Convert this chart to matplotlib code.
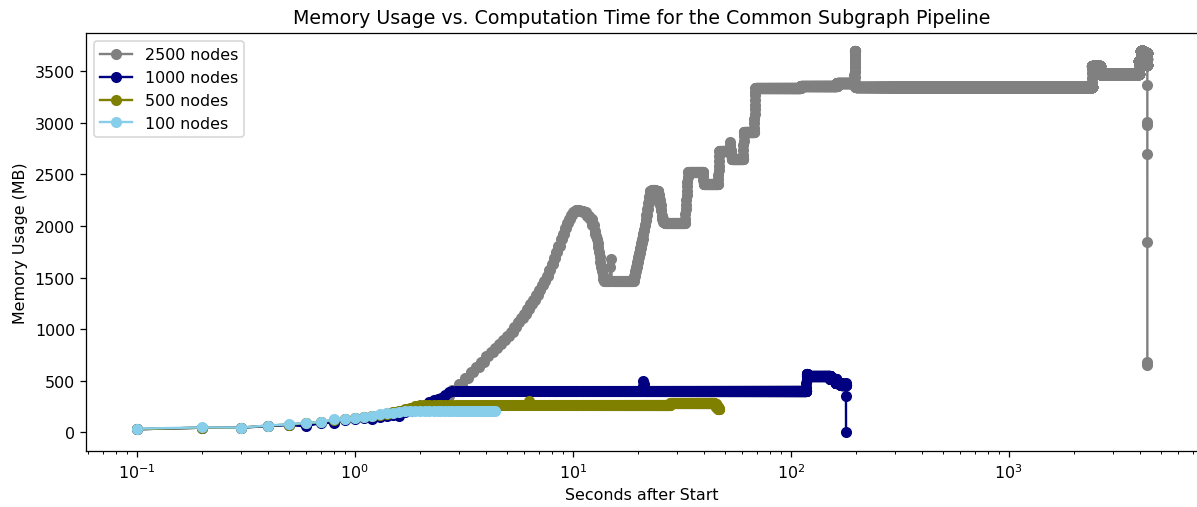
import numpy as np
import matplotlib
matplotlib.use("Agg")
import matplotlib.pyplot as plt

SAMPLE_INTERVAL = 0.1  # profiler sampling period (s)

# Memory readings per run: time (s) a level is first seen and the level (MB),
# held until the next reading. Runs are sampled every SAMPLE_INTERVAL seconds.
t_2500 = [0.1, 0.2, 0.3, 0.4, 0.5, 0.6, 0.7, 0.8, 0.9, 1.0, 1.1, 1.2, 1.3, 1.4, 1.5, 1.6, 1.7, 1.8,
          2.0, 2.2, 2.4, 2.6, 2.8, 3.0, 3.2, 3.4, 3.6, 3.8, 4.0, 4.2, 4.4, 4.6, 4.8, 5.0, 5.2, 5.4,
          5.6, 5.8, 6.0, 6.2, 6.4, 6.6, 6.8, 7.0, 7.2, 7.4, 7.6, 7.8, 8.0, 8.2, 8.4, 8.6, 8.8, 9.0,
          9.2, 9.4, 9.6, 9.8, 10.0, 10.2, 10.4, 10.8, 11.2, 11.6, 12.0, 12.3, 12.6, 12.7, 12.8,
          12.9, 13.0, 13.1, 13.2, 13.3, 13.4, 13.5, 13.6, 13.7, 13.8, 13.9, 14.9, 15.0, 15.1,
          19.2, 19.4, 19.6, 19.8, 20.0, 20.2, 20.4, 20.6, 20.8, 21.0, 21.2, 21.4, 21.6, 21.8, 22.0,
          22.2, 22.4, 22.6, 23.0, 24.0, 24.8, 25.0, 25.2, 25.4, 25.6, 25.8, 26.0, 26.5,
          32.8, 32.9, 33.0, 33.1, 33.2, 33.3, 33.4, 33.5, 33.6, 33.7, 33.8, 39.7, 39.8, 39.9,
          46.5, 46.6, 46.7, 46.8, 46.9, 47.0, 47.1, 52.5, 52.6, 52.7, 52.8, 53.5, 53.6,
          60.5, 60.6, 60.7, 60.8, 60.9, 61.0, 68.0, 68.1, 68.2, 68.3, 68.4, 68.5, 68.6, 68.7,
          68.8, 68.9, 111.0, 163.0, 196.0, 196.1, 196.2, 196.3, 196.4, 196.5, 196.6, 196.7,
          197.5, 197.6, 197.7, 197.8, 197.9, 198.0, 198.1, 198.2,
          2420.0, 2420.1, 2420.2, 2420.3, 2420.4, 2620.0, 2620.1, 3950.0, 3950.1, 3950.2,
          4050.0, 4050.1, 4150.0, 4250.0, 4300.0, 4300.1, 4320.0,
          4324.5, 4324.6, 4324.7, 4324.8, 4324.9, 4325.0, 4325.1]
mb_2500 = [30, 45, 45, 65, 75, 90, 100, 120, 130, 140, 150, 160, 172, 185, 195, 205, 215, 228,
           255, 285, 315, 355, 410, 470, 525, 580, 630, 685, 735, 775, 815, 855, 895, 935, 975,
           1020, 1070, 1110, 1150, 1195, 1240, 1285, 1330, 1380, 1425, 1470, 1517, 1575, 1630,
           1690, 1750, 1810, 1870, 1925, 1975, 2025, 2070, 2105, 2130, 2145, 2150, 2145, 2130,
           2100, 2065, 2010, 1950, 1925, 1900, 1870, 1835, 1800, 1750, 1700, 1650, 1600, 1560,
           1520, 1490, 1470, 1600, 1680, 1470,
           1510, 1560, 1605, 1650, 1695, 1740, 1785, 1830, 1875, 1920, 1965, 2010, 2060, 2110,
           2165, 2220, 2280, 2340, 2350, 2340, 2300, 2250, 2200, 2150, 2100, 2065, 2040, 2025,
           2070, 2115, 2160, 2205, 2250, 2295, 2340, 2385, 2430, 2475, 2520, 2480, 2440, 2406,
           2450, 2495, 2540, 2585, 2630, 2680, 2729, 2770, 2810, 2770, 2729, 2690, 2648,
           2690, 2735, 2780, 2825, 2870, 2907, 2950, 2995, 3040, 3085, 3130, 3175, 3220, 3265,
           3300, 3335, 3358, 3382, 3420, 3460, 3500, 3540, 3580, 3620, 3660, 3698,
           3690, 3640, 3590, 3540, 3490, 3440, 3390, 3345,
           3390, 3435, 3480, 3520, 3552, 3510, 3472, 3520, 3560, 3600,
           3650, 3690, 3650, 3680, 3600, 3560, 3620,
           3370, 3010, 2980, 2700, 1845, 683, 654]
end_2500 = 4325.1

t_1000 = [0.1, 0.2, 0.3, 0.4, 0.5, 0.6, 0.7, 0.8, 0.9, 1.0, 1.1, 1.2, 1.3, 1.4, 1.5, 1.6, 1.7, 1.8,
          1.9, 2.0, 2.1, 2.2, 2.3, 2.4, 2.5, 2.6, 2.7, 2.8, 21.0, 21.1, 21.2, 21.3, 118.0, 118.1,
          118.2, 118.3, 119.0, 152.0, 161.0, 170.0, 179.2, 179.3, 179.4]
mb_1000 = [30, 45, 45, 60, 70, 58, 92, 90, 120, 128, 138, 125, 150, 162, 172, 158, 195, 210,
           225, 240, 260, 290, 310, 325, 335, 360, 390, 397, 450, 500, 470, 397, 440, 480,
           520, 565, 550, 520, 480, 460, 480, 355, 0]
end_1000 = 179.4

t_500 = [0.1, 0.2, 0.3, 0.4, 0.5, 0.6, 0.7, 0.8, 0.9, 1.0, 1.1, 1.2, 1.3, 1.4, 1.5, 1.6, 1.7, 1.8,
         1.9, 2.0, 6.3, 6.4, 28.0, 44.5, 45.5, 46.5]
mb_500 = [30, 45, 45, 65, 75, 88, 98, 118, 128, 135, 148, 158, 170, 182, 195, 210, 225, 240,
          252, 262, 300, 262, 285, 270, 250, 230]
end_500 = 47.0

t_100 = [0.1, 0.2, 0.3, 0.4, 0.5, 0.6, 0.7, 0.8, 0.9, 1.0, 1.1, 1.2, 1.3, 1.4, 1.5, 1.6, 1.7]
mb_100 = [35, 48, 46, 66, 78, 92, 100, 125, 132, 140, 150, 162, 175, 183, 190, 196, 202]
end_100 = 4.4

labels = ["2500 nodes", "1000 nodes", "500 nodes", "100 nodes"]
colors = ["grey", "navy", "olive", "skyblue"]


def expand_readings(times, levels, end):
    """Rebuild the sampled series from the held readings."""
    n = int(round(end / SAMPLE_INTERVAL))
    samples = np.round(np.arange(1, n + 1) * SAMPLE_INTERVAL, 1)
    idx = np.searchsorted(np.asarray(times), samples + 1e-6, side="right") - 1
    return samples, np.asarray(levels)[idx]


runs = [(t_2500, mb_2500, end_2500), (t_1000, mb_1000, end_1000),
        (t_500, mb_500, end_500), (t_100, mb_100, end_100)]

fig = plt.figure(figsize=(1197 / 114, 508 / 114), dpi=114)
ax = fig.add_axes([86 / 1197, 1 - 452 / 508, 1112 / 1197, 418 / 508])

for (times, levels, end), label, color in zip(runs, labels, colors):
    x, y = expand_readings(times, levels, end)
    ax.plot(x, y, marker="o", color=color, label=label)

ax.set_xscale("log")
ax.set_xlim(0.05852, 7385)
ax.set_ylim(-181, 3869)
ax.set_title("Memory Usage vs. Computation Time for the Common Subgraph Pipeline")
ax.set_xlabel("Seconds after Start")
ax.set_ylabel("Memory Usage (MB)")
ax.legend(loc="upper left")

fig.savefig("out.png", dpi=114)
plt.close(fig)
